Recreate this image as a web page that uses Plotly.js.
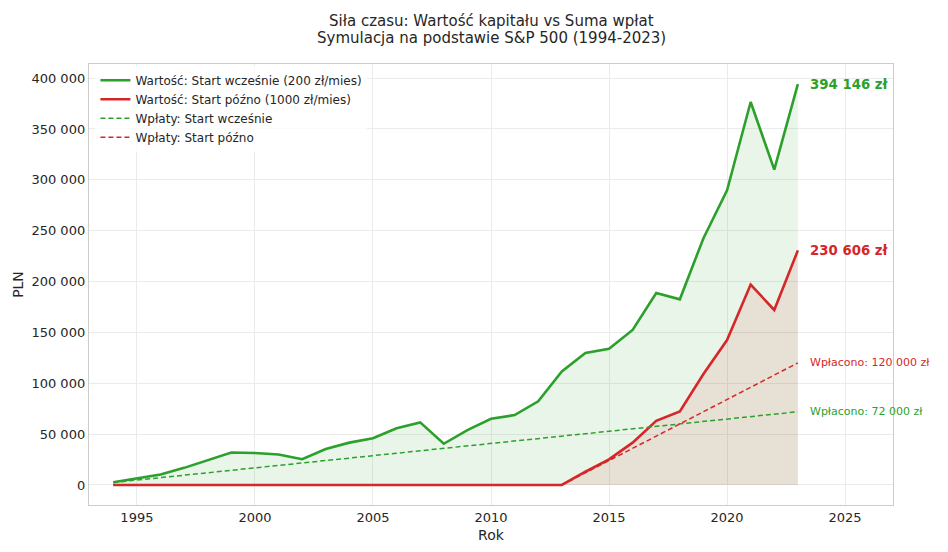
<!DOCTYPE html>
<html>
<head>
<meta charset="utf-8">
<script src="https://cdn.plot.ly/plotly-3.0.1.min.js"></script>
<style>html,body{margin:0;padding:0;background:#fff}#chart{width:948px;height:552px}</style>
</head>
<body>
<div id="chart"></div>
<script>
const years = [1994,1995,1996,1997,1998,1999,2000,2001,2002,2003,2004,2005,2006,2007,2008,2009,2010,2011,2012,2013,2014,2015,2016,2017,2018,2019,2020,2021,2022,2023];
const valueEarly = [2600,6200,10300,16800,24400,31900,31400,29900,25300,35400,41600,46000,55800,61500,40500,54000,65000,68700,82200,111600,129700,134000,152400,188700,182500,242600,289600,376500,310000,394146];
const valueLate = [0,0,0,0,0,0,0,0,0,0,0,0,0,0,0,0,0,0,0,0,13000,25200,41600,63000,72300,109000,142400,197000,172000,230606];
const paidEarly = [2400,4800,7200,9600,12000,14400,16800,19200,21600,24000,26400,28800,31200,33600,36000,38400,40800,43200,45600,48000,50400,52800,55200,57600,60000,62400,64800,67200,69600,72000];
const paidLate = [0,0,0,0,0,0,0,0,0,0,0,0,0,0,0,0,0,0,0,0,12000,24000,36000,48000,60000,72000,84000,96000,108000,120000];
const seriesNames = ['Wartość: Start wcześnie (200 zł/mies)','Wartość: Start późno (1000 zł/mies)','Wpłaty: Start wcześnie','Wpłaty: Start późno'];
const titleLines = ['Siła czasu: Wartość kapitału vs Suma wpłat','Symulacja na podstawie S&P 500 (1994-2023)'];
const finalLabels = ['394 146 zł','230 606 zł'];
const paidLabels = ['Wpłacono: 120 000 zł','Wpłacono: 72 000 zł'];

const GREEN = '#2ca02c', RED = '#d62728';
const last = years.length - 1;

const traces = [
  {x: years, y: valueEarly, type:'scatter', mode:'lines', fill:'tozeroy', fillcolor:'rgba(44,160,44,0.1)', line:{width:0}, showlegend:false, hoverinfo:'skip'},
  {x: years, y: valueLate, type:'scatter', mode:'lines', fill:'tozeroy', fillcolor:'rgba(214,39,40,0.1)', line:{width:0}, showlegend:false, hoverinfo:'skip'},
  {x: years, y: valueEarly, type:'scatter', mode:'lines', name: seriesNames[0], line:{color:GREEN, width:2.6}},
  {x: years, y: valueLate, type:'scatter', mode:'lines', name: seriesNames[1], line:{color:RED, width:2.6}},
  {x: years, y: paidEarly, type:'scatter', mode:'lines', name: seriesNames[2], line:{color:GREEN, width:1.5, dash:'5px,3px'}},
  {x: years, y: paidLate, type:'scatter', mode:'lines', name: seriesNames[3], line:{color:RED, width:1.5, dash:'5px,3px'}}
];

const fontFam = 'DejaVu Sans, sans-serif';
const layout = {
  width: 948, height: 552,
  paper_bgcolor:'#fff', plot_bgcolor:'#fff',
  margin:{l:89, r:55, t:64, b:47},
  font:{family:fontFam, color:'#262626', size:13},
  separators:', ',
  xaxis:{range:[1992.97,2027.03], tickvals:[1995,2000,2005,2010,2015,2020,2025], ticks:'', showgrid:true, gridcolor:'#ebebeb', gridwidth:1, zeroline:false, showline:true, mirror:true, linecolor:'#cccccc', linewidth:1.2, title:{text:'Rok', font:{size:14}, standoff:6}, tickfont:{size:13}},
  yaxis:{range:[-19707,413853], tickvals:[0,50000,100000,150000,200000,250000,300000,350000,400000], tickformat:',d', ticks:'', showgrid:true, gridcolor:'#ebebeb', gridwidth:1, zeroline:false, showline:true, mirror:true, linecolor:'#cccccc', linewidth:1.2, title:{text:'PLN', font:{size:14}, standoff:4}, tickfont:{size:13}},
  legend:{x:0.008, y:0.996, xanchor:'left', yanchor:'top', bgcolor:'rgba(255,255,255,0.8)', borderwidth:0, font:{size:12, family:fontFam, color:'#262626'}, tracegroupgap:0},
  hovermode:false,
  annotations:[
    {x:0.5, y:1.0975, xref:'paper', yref:'paper', text:titleLines[0], showarrow:false, xanchor:'center', yanchor:'middle', font:{size:15, color:'#262626', family:fontFam}},
    {x:0.5, y:1.059, xref:'paper', yref:'paper', text:titleLines[1], showarrow:false, xanchor:'center', yanchor:'middle', font:{size:15, color:'#262626', family:fontFam}},
    {x: years[last]+0.45, y: valueEarly[last], xref:'x', yref:'y', text: finalLabels[0], showarrow:false, xanchor:'left', yanchor:'middle', font:{size:13.3, color:GREEN, family:fontFam, weight:'bold'}},
    {x: years[last]+0.45, y: valueLate[last], xref:'x', yref:'y', text: finalLabels[1], showarrow:false, xanchor:'left', yanchor:'middle', font:{size:13.3, color:RED, family:fontFam, weight:'bold'}},
    {x: years[last]+0.45, y: paidLate[last], xref:'x', yref:'y', text: paidLabels[0], showarrow:false, xanchor:'left', yanchor:'middle', font:{size:11, color:RED, family:fontFam}},
    {x: years[last]+0.45, y: paidEarly[last], xref:'x', yref:'y', text: paidLabels[1], showarrow:false, xanchor:'left', yanchor:'middle', font:{size:11, color:GREEN, family:fontFam}}
  ]
};
Plotly.newPlot('chart', traces, layout, {displayModeBar:false, staticPlot:true});
</script>
</body>
</html>
